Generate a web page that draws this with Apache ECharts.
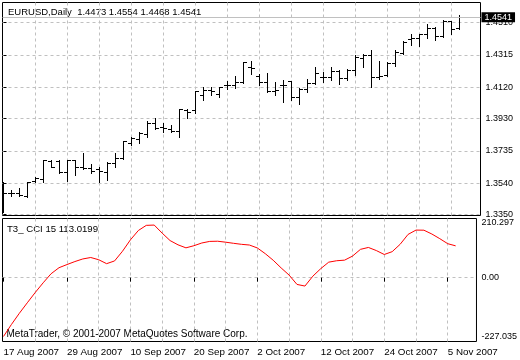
<!DOCTYPE html>
<html><head><meta charset="utf-8">
<script src="https://cdn.jsdelivr.net/npm/echarts@6/dist/echarts.min.js"></script>
<style>html,body{margin:0;padding:0;background:#fff}#c{width:520px;height:360px}</style>
</head><body><div id="c"></div>
<script>
const symbol = 'EURUSD';
const period = 'Daily';
const dates = ['17 Aug 2007','20 Aug 2007','21 Aug 2007','22 Aug 2007','23 Aug 2007','24 Aug 2007','27 Aug 2007','28 Aug 2007',
  '29 Aug 2007','30 Aug 2007','31 Aug 2007','3 Sep 2007','4 Sep 2007','5 Sep 2007','6 Sep 2007','7 Sep 2007',
  '10 Sep 2007','11 Sep 2007','12 Sep 2007','13 Sep 2007','14 Sep 2007','17 Sep 2007','18 Sep 2007','19 Sep 2007',
  '20 Sep 2007','21 Sep 2007','24 Sep 2007','25 Sep 2007','26 Sep 2007','27 Sep 2007','28 Sep 2007','1 Oct 2007',
  '2 Oct 2007','3 Oct 2007','4 Oct 2007','5 Oct 2007','8 Oct 2007','9 Oct 2007','10 Oct 2007','11 Oct 2007',
  '12 Oct 2007','15 Oct 2007','16 Oct 2007','17 Oct 2007','18 Oct 2007','19 Oct 2007','22 Oct 2007','23 Oct 2007',
  '24 Oct 2007','25 Oct 2007','26 Oct 2007','29 Oct 2007','30 Oct 2007','31 Oct 2007','1 Nov 2007','2 Nov 2007',
  '5 Nov 2007','6 Nov 2007'];
const opens  = [1.3459,1.3474,1.3477,1.3459,1.3549,1.3561,1.3672,1.3672,1.3604,1.3676,1.3634,1.3628,1.3622,1.3606,1.3658,1.3688,
  1.3779,1.3803,1.3833,1.3902,1.3876,1.3864,1.3853,1.3978,1.3978,1.4069,1.4099,1.4075,1.4129,1.4129,1.4149,1.4240,
  1.4184,1.4149,1.4095,1.4129,1.4155,1.4055,1.4103,1.4143,1.4176,1.4180,1.4216,1.4170,1.4220,1.4291,1.4311,1.4176,
  1.4190,1.4260,1.4325,1.4405,1.4412,1.4438,1.4474,1.4425,1.4518,1.4473];
const highs  = [1.3545,1.3501,1.3513,1.3549,1.3575,1.3682,1.3682,1.3682,1.3682,1.3680,1.3720,1.3658,1.3634,1.3666,1.3719,1.3797,
  1.3817,1.3851,1.3914,1.3936,1.3900,1.3888,1.3990,1.3990,1.4099,1.4119,1.4123,1.4123,1.4154,1.4184,1.4274,1.4280,
  1.4196,1.4204,1.4149,1.4160,1.4158,1.4115,1.4170,1.4244,1.4210,1.4240,1.4224,1.4230,1.4311,1.4321,1.4345,1.4276,
  1.4270,1.4341,1.4397,1.4438,1.4442,1.4498,1.4482,1.4526,1.4521,1.4554];
const lows   = [1.3364,1.3459,1.3459,1.3453,1.3545,1.3549,1.3634,1.3600,1.3555,1.3586,1.3622,1.3598,1.3545,1.3561,1.3634,1.3684,
  1.3767,1.3779,1.3821,1.3864,1.3847,1.3847,1.3821,1.3936,1.3962,1.4039,1.4069,1.4059,1.4109,1.4115,1.4145,1.4200,
  1.4135,1.4089,1.4069,1.4028,1.4039,1.4019,1.4089,1.4140,1.4149,1.4160,1.4140,1.4160,1.4190,1.4240,1.4123,1.4170,
  1.4184,1.4250,1.4317,1.4377,1.4371,1.4418,1.4405,1.4422,1.4442,1.4468];
const closes = [1.3475,1.3478,1.3465,1.3546,1.3567,1.3679,1.3636,1.3604,1.3676,1.3634,1.3628,1.3610,1.3610,1.3660,1.3688,1.3793,
  1.3809,1.3839,1.3902,1.3870,1.3870,1.3853,1.3986,1.3966,1.4095,1.4099,1.4095,1.4120,1.4129,1.4149,1.4270,1.4230,
  1.4149,1.4095,1.4099,1.4129,1.4055,1.4103,1.4143,1.4204,1.4176,1.4216,1.4170,1.4220,1.4297,1.4311,1.4176,1.4184,
  1.4264,1.4331,1.4391,1.4412,1.4438,1.4474,1.4425,1.4518,1.4466,1.4541];
const cci = [-209.1,-166.5,-126.7,-89.4,-52.8,-18.4,13.9,35.4,46.5,57.2,66.5,71.6,63.7,49.7,59.4,93.8,
  134.3,167.6,185.9,187.0,158.3,131.8,116.7,106.0,113.5,123.2,128.9,129.5,126.1,122.1,118.5,116.0,
  105.6,85.2,61.9,34.6,9.2,-24.1,-29.9,5.3,32.1,55.1,60.1,62.2,76.6,100.6,107.4,96.3,
  82.3,92.4,118.5,153.7,169.1,168.7,155.1,138.6,120.7,113.0199];
const priceTicks = ['1.3350','1.3540','1.3735','1.3930','1.4120','1.4315','1.4510'];
const cciTicks = ['-227.035','0.00','210.297'];
const dateTicks = ['17 Aug 2007','29 Aug 2007','10 Sep 2007','20 Sep 2007','2 Oct 2007','12 Oct 2007','24 Oct 2007','5 Nov 2007'];
const cciName = 'T3_ CCI 15';
const copyright = 'MetaTrader, \u00A9 2001-2007 MetaQuotes Software Corp.';

// ---- build ----
const n = dates.length;
const last = n - 1;
const ohlc = dates.map((d, i) => [i, opens[i], highs[i], lows[i], closes[i]]);
const cciData = cci.map((v, i) => [i, v]);
const labelIdx = dateTicks.map(t => dates.indexOf(t));
const gridIdx = [];
for (let i = 4; i < n; i += 4) gridIdx.push(i);
const priceVals = priceTicks.map(Number);
const cciVals = cciTicks.map(Number);
const FONT = 'Liberation Sans';
const dash = {color: '#c0c0c0', width: 1, type: [3, 3]};

function renderOHLC(params, api) {
  const x = api.value(0);
  const o = api.coord([x, api.value(1)]);
  const h = api.coord([x, api.value(2)]);
  const l = api.coord([x, api.value(3)]);
  const c = api.coord([x, api.value(4)]);
  const px = Math.floor(o[0]);
  const yh = Math.round(h[1]), yl = Math.round(l[1]);
  const yo = Math.floor(o[1]), yc = Math.floor(c[1]);
  return {type: 'group', children: [
    {type: 'rect', shape: {x: px, y: yh, width: 1, height: Math.max(1, yl - yh + 1)}, style: {fill: '#000'}},
    {type: 'rect', shape: {x: px - 3, y: yo, width: 3, height: 1}, style: {fill: '#000'}},
    {type: 'rect', shape: {x: px + 1, y: yc, width: 3, height: 1}, style: {fill: '#000'}}
  ]};
}

const xBase = {type: 'value', min: -0.125, max: 59.625, axisLine: {show: false}};
const chart = echarts.init(document.getElementById('c'), null, {renderer: 'canvas'});
chart.setOption({
  animation: false,
  backgroundColor: '#fff',
  textStyle: {fontFamily: FONT},
  grid: [
    {left: 2.5, top: 2.5, width: 478, height: 213, show: true, borderColor: '#000', borderWidth: 1, backgroundColor: 'transparent'},
    {left: 2.5, top: 218.5, width: 478, height: 123, show: true, borderColor: '#000', borderWidth: 1, backgroundColor: 'transparent'}
  ],
  xAxis: [
    Object.assign({}, xBase, {gridIndex: 0, axisTick: {show: false, customValues: gridIdx}, axisLabel: {show: false},
      splitLine: {show: true, lineStyle: dash}}),
    Object.assign({}, xBase, {gridIndex: 1, position: 'bottom',
      axisTick: {show: true, inside: false, length: 4, customValues: labelIdx, lineStyle: {color: '#000', width: 1}},
      axisLabel: {show: true, customValues: labelIdx, formatter: v => dates[Math.round(v)], align: 'left',
        margin: 6, color: '#000', fontSize: 9.8, fontFamily: FONT},
      splitLine: {show: false}}),
    Object.assign({}, xBase, {gridIndex: 1, position: 'top', axisTick: {show: false, customValues: gridIdx},
      axisLabel: {show: false}, splitLine: {show: true, lineStyle: dash}})
  ],
  yAxis: [
    {type: 'value', gridIndex: 0, position: 'right', min: 1.334396, max: 1.463084, axisLine: {show: false},
      axisTick: {show: true, inside: false, length: 3, customValues: priceVals, lineStyle: {color: '#000', width: 1}},
      axisLabel: {show: true, customValues: priceVals, formatter: v => v.toFixed(4), margin: 5, color: '#000', fontSize: 9, fontFamily: FONT},
      splitLine: {show: true, lineStyle: dash}},
    {type: 'value', gridIndex: 1, position: 'right', min: cciVals[0], max: cciVals[2], axisLine: {show: false},
      axisTick: {show: false, customValues: cciVals},
      axisLabel: {show: true, customValues: cciVals, margin: 5, color: '#000', fontSize: 9, fontFamily: FONT,
        formatter: v => cciTicks[cciVals.findIndex(t => Math.abs(t - v) < 1e-6)],
        verticalAlignMinLabel: 'bottom', verticalAlignMaxLabel: 'top'},
      splitLine: {show: false}},
    {type: 'value', gridIndex: 1, position: 'left', min: cciVals[0], max: cciVals[2], axisLine: {show: false},
      axisTick: {show: false, customValues: [0]}, axisLabel: {show: false},
      splitLine: {show: true, lineStyle: dash}}
  ],
  series: [
    {type: 'custom', name: symbol, xAxisIndex: 0, yAxisIndex: 0, data: ohlc, renderItem: renderOHLC, clip: true,
      encode: {x: 0, y: [1, 2, 3, 4]},
      markLine: {silent: true, symbol: 'none', animation: false, precision: 4,
        lineStyle: {color: '#c0c0c0', type: 'solid', width: 1},
        label: {show: true, position: 'end', distance: 1, formatter: closes[last].toFixed(4), color: '#fff',
          backgroundColor: '#000', padding: [1, 3, 0, 3], fontSize: 9, fontFamily: FONT},
        data: [{yAxis: closes[last]}]}},
    {type: 'line', name: cciName, xAxisIndex: 1, yAxisIndex: 1, data: cciData, showSymbol: false, symbol: 'none',
      lineStyle: {color: '#ff0000', width: 1}, itemStyle: {color: '#ff0000'}}
  ],
  graphic: [
    {type: 'text', x: 8, y: 12, style: {text: symbol + ',' + period + '  ' + [opens[last], highs[last], lows[last], closes[last]].map(v => v.toFixed(4)).join(' '),
      fill: '#000', font: '9.5px "Liberation Sans"', verticalAlign: 'middle'}},
    {type: 'text', x: 7, y: 229, style: {text: cciName + ' ' + cci[last].toFixed(4), fill: '#000', font: '9.6px "Liberation Sans"', verticalAlign: 'middle'}},
    {type: 'text', x: 6.5, y: 334.5, style: {text: copyright, fill: '#000', font: '10px "Liberation Sans"', verticalAlign: 'middle'}}
  ]
});
</script></body></html>
